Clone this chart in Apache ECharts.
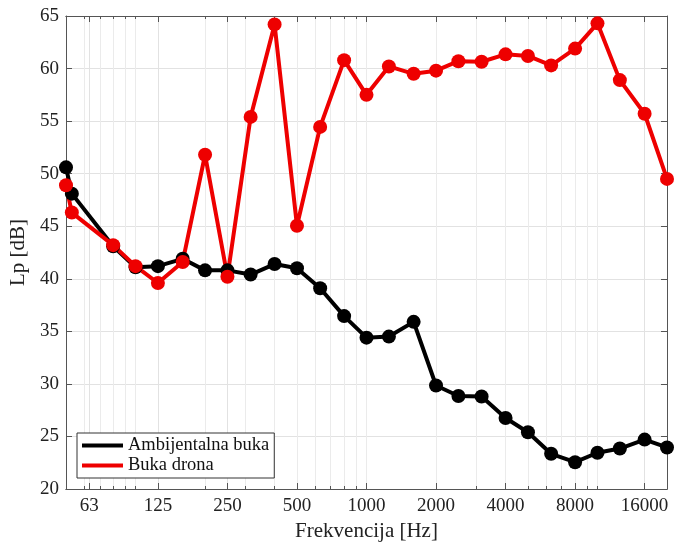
<!DOCTYPE html>
<html>
<head>
<meta charset="utf-8">
<script src="https://cdn.jsdelivr.net/npm/echarts@6/dist/echarts.min.js"></script>
<style>html,body{margin:0;padding:0;background:#fff}#c{width:682px;height:544px}</style>
</head>
<body>
<div id="c"></div>
<script>
const frequencies = [50, 53, 80, 100, 125, 160, 200, 250, 315, 400, 500, 630, 800, 1000, 1250, 1600, 2000, 2500, 3150, 4000, 5000, 6300, 8000, 10000, 12500, 16000, 20000];
const ambijentalna = [50.6, 48.1, 43.1, 41.1, 41.2, 41.9, 40.8, 40.8, 40.4, 41.4, 41.0, 39.1, 36.45, 34.4, 34.5, 35.9, 29.85, 28.85, 28.8, 26.75, 25.4, 23.35, 22.55, 23.45, 23.85, 24.7, 23.95];
const dron = [48.9, 46.3, 43.2, 41.2, 39.6, 41.6, 51.8, 40.2, 55.4, 64.2, 45.05, 54.45, 60.8, 57.5, 60.2, 59.5, 59.8, 60.7, 60.65, 61.35, 61.2, 60.3, 61.9, 64.3, 58.9, 55.7, 49.5];
const majorTicks = [63, 125, 250, 500, 1000, 2000, 4000, 8000, 16000];
const minorTicks = [60, 70, 80, 90, 100, 200, 300, 400, 500, 600, 700, 800, 900, 1000, 2000, 3000, 4000, 5000, 6000, 7000, 8000, 9000, 10000, 20000];
const seriesNames = ['Ambijentalna buka', 'Buka drona'];
const xMin = 50, xMax = 20000, yMin = 20, yMax = 65, yStep = 5;

const FONT = '"Liberation Serif", "DejaVu Serif", serif';
const axisCol = '#555555';
const chart = echarts.init(document.getElementById('c'));

function xAx(pos, ticks, len, showLabel, split, splitCol) {
  return {
    type: 'log', logBase: 10, min: xMin, max: xMax, position: pos,
    axisLine: { show: true, onZero: false, lineStyle: { color: axisCol, width: 1 } },
    axisTick: { show: true, inside: true, length: len, customValues: ticks, lineStyle: { color: axisCol } },
    axisLabel: showLabel ? { show: true, customValues: ticks, margin: 8, fontFamily: FONT, fontSize: 19, color: '#222',
      formatter: v => String(Math.round(v)) } : { show: false },
    splitLine: { show: split, lineStyle: { color: splitCol, width: 1 } },
    minorTick: { show: false }, minorSplitLine: { show: false }
  };
}

const option = {
  animation: false,
  backgroundColor: '#fff',
  grid: { left: 66, right: 15, top: 16, bottom: 55, containLabel: false, outerBoundsMode: 'none' },
  xAxis: [
    Object.assign(xAx('bottom', majorTicks, 6, true, true, '#e2e2e2'), {
      name: 'Frekvencija [Hz]', nameLocation: 'middle', nameGap: 28,
      nameTextStyle: { fontFamily: FONT, fontSize: 21, color: '#222' }
    }),
    xAx('bottom', minorTicks, 3, false, true, '#ebebeb'),
    xAx('top', majorTicks, 6, false, false, '#fff'),
    xAx('top', minorTicks, 3, false, false, '#fff')
  ],
  yAxis: [
    {
      type: 'value', min: yMin, max: yMax, interval: yStep, position: 'left',
      name: 'Lp [dB]', nameLocation: 'middle', nameGap: 31,
      nameTextStyle: { fontFamily: FONT, fontSize: 21, color: '#222' },
      axisLine: { show: true, lineStyle: { color: axisCol } },
      axisTick: { show: true, inside: true, length: 6, lineStyle: { color: axisCol } },
      axisLabel: { fontFamily: FONT, fontSize: 19, color: '#222', margin: 7 },
      splitLine: { show: true, lineStyle: { color: '#e2e2e2' } }
    },
    {
      type: 'value', min: yMin, max: yMax, interval: yStep, position: 'right',
      axisLine: { show: true, lineStyle: { color: axisCol } },
      axisTick: { show: true, inside: true, length: 6, lineStyle: { color: axisCol } },
      axisLabel: { show: false },
      splitLine: { show: false }
    }
  ],
  legend: {
    left: 77, top: 433, orient: 'vertical',
    backgroundColor: '#fff', borderColor: '#333', borderWidth: 1,
    padding: [3, 5, 3, 5], itemGap: 1,
    itemWidth: 41, itemHeight: 4,
    textStyle: { fontFamily: FONT, fontSize: 18.5, color: '#111' },
    data: [
      { name: seriesNames[0], icon: 'rect' },
      { name: seriesNames[1], icon: 'rect' }
    ]
  },
  series: [
    {
      name: seriesNames[0], type: 'line', xAxisIndex: 0, yAxisIndex: 0,
      data: frequencies.map((f, i) => [f, ambijentalna[i]]),
      symbol: 'circle', symbolSize: 14, clip: false,
      lineStyle: { color: '#000', width: 4 },
      itemStyle: { color: '#000' }
    },
    {
      name: seriesNames[1], type: 'line', xAxisIndex: 0, yAxisIndex: 0,
      data: frequencies.map((f, i) => [f, dron[i]]),
      symbol: 'circle', symbolSize: 14, clip: false,
      lineStyle: { color: '#ee0000', width: 4 },
      itemStyle: { color: '#ee0000' }
    }
  ]
};
chart.setOption(option);
</script>
</body>
</html>
